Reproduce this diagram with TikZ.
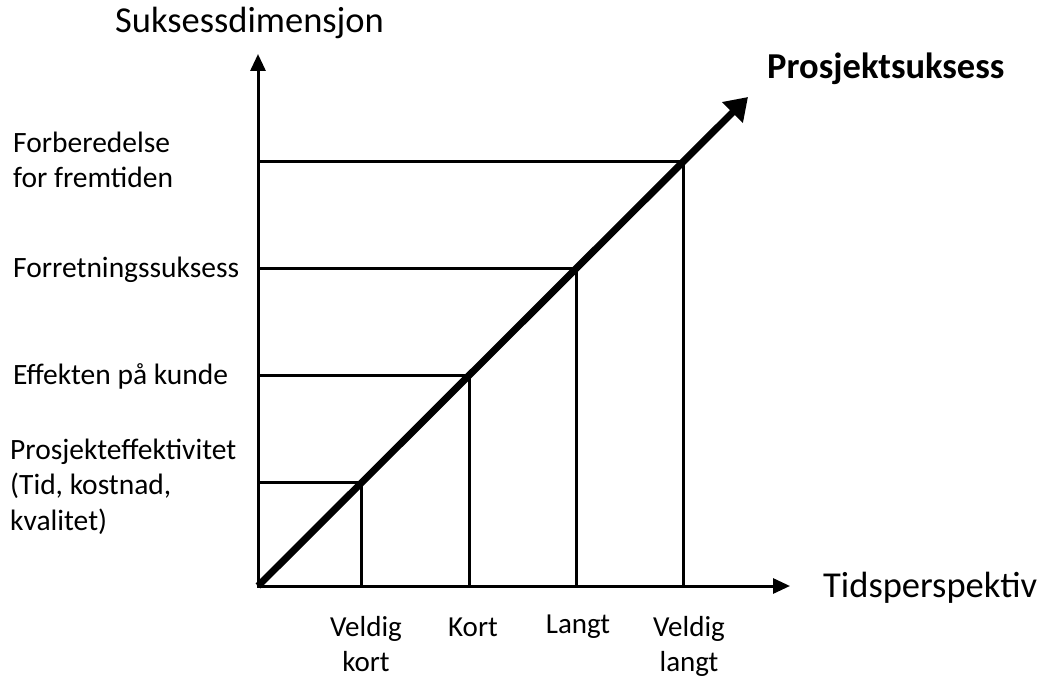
\documentclass[tikz,border=0pt]{standalone}
\usepackage{fontspec}
\setmainfont{Carlito}
\usetikzlibrary{arrows.meta}
\begin{document}
\begin{tikzpicture}[x=1pt,y=-1pt,
  axis/.style={line width=3pt,-{Triangle[length=17pt,width=15pt]}},
  grid/.style={line width=3pt},
  diag/.style={line width=7pt,-{Triangle[length=22pt,width=28pt]}},
  lbl/.style={inner sep=0pt,font=\fontsize{29.5}{35.5}\selectfont,align=left,anchor=base west},
  blbl/.style={inner sep=0pt,font=\fontsize{29}{35}\selectfont,align=center,anchor=base},
  big/.style={inner sep=0pt,font=\fontsize{36.5}{40}\selectfont,anchor=base west}]
\useasboundingbox (0,0) rectangle (1043,679);
\coordinate (O) at (258,586);
\coordinate (Ytip) at (258,54);
\coordinate (Xtip) at (790,586);
\coordinate (Dtip) at (748,97);
\coordinate (P1) at (361,482);
\coordinate (P2) at (469,375);
\coordinate (P3) at (576,268);
\coordinate (P4) at (683,162);
\coordinate (L1) at (258,482);
\coordinate (L2) at (258,375);
\coordinate (L3) at (258,268);
\coordinate (L4) at (258,162);
\coordinate (B1) at (361,586);
\coordinate (B2) at (469,586);
\coordinate (B3) at (576,586);
\coordinate (B4) at (683,586);
\draw[grid] (L1) -- (P1) -- (B1);
\draw[grid] (L2) -- (P2) -- (B2);
\draw[grid] (L3) -- (P3) -- (B3);
\draw[grid] (L4) -- (P4) -- (B4);
\draw[axis] (O) -- (Ytip);
\draw[axis] ([xshift=-1.5pt]O) -- (Xtip);
\draw[diag] (O) -- (Dtip);
\node[big] (ty) at (115,33) {Suksessdimensjon};
\node[big] (tx) at (823,597) {Tidsperspektiv};
\node[big,font=\bfseries\fontsize{36.5}{40}\selectfont] (ps) at (767,79) {Prosjektsuksess};
\node[lbl] (f4) at (13,188) {Forberedelse\\for fremtiden};
\node[lbl] (f3) at (13,277) {Forretningssuksess};
\node[lbl] (f2) at (13,384) {Effekten på kunde};
\node[lbl] (f1) at (10,530) {Prosjekteffektivitet\\(Tid, kostnad,\\kvalitet)};
\node[blbl] (b1) at (366,671) {Veldig\\kort};
\node[blbl] (b2) at (473,636) {Kort};
\node[blbl] (b3) at (578,633) {Langt};
\node[blbl] (b4) at (689,671) {Veldig\\langt};
\end{tikzpicture}
\end{document}
